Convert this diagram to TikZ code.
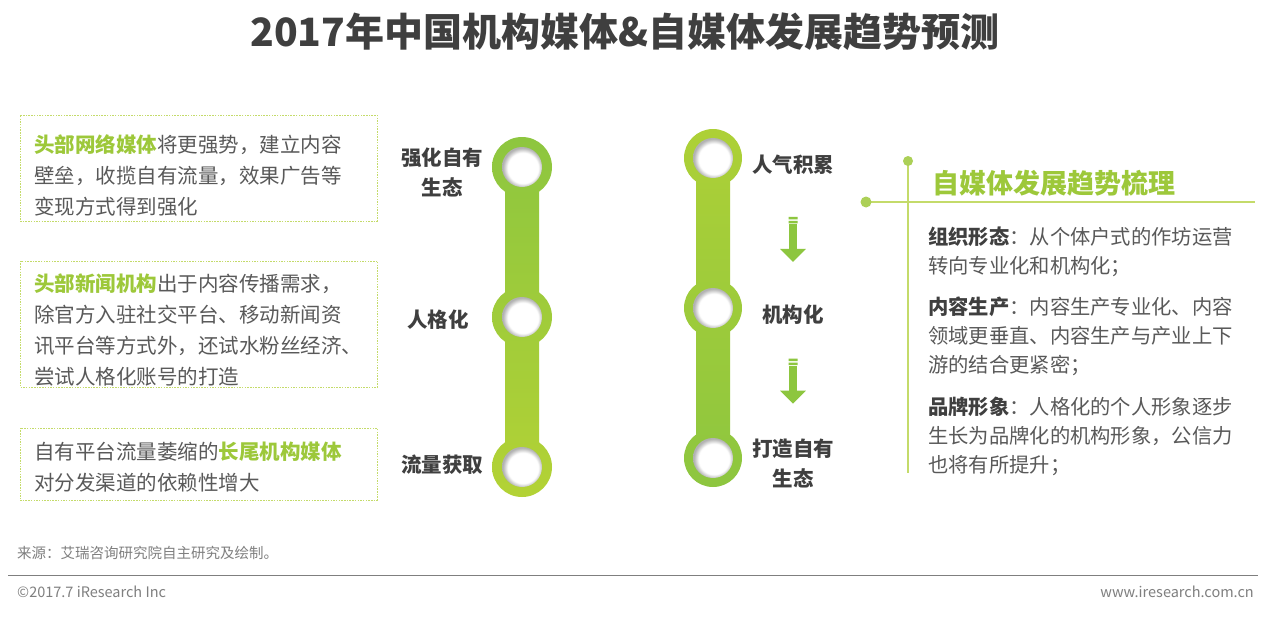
\documentclass[tikz,border=0pt]{standalone}
\usepackage{fontspec}
\setmainfont{Noto Sans CJK SC}
\usetikzlibrary{arrows.meta,calc,positioning}
\definecolor{Ink}{HTML}{3F3F3F}
\definecolor{Body}{HTML}{595959}
\definecolor{Lime}{HTML}{9DC83A}
\definecolor{GrnA}{HTML}{8DC63F}
\definecolor{GrnB}{HTML}{B3D235}
\definecolor{Rule}{HTML}{C4DB6A}
\definecolor{Muted}{HTML}{7F7F7F}
\pgfdeclareradialshading{holeshade}{\pgfpoint{2bp}{-2bp}}{color(0bp)=(white);color(19bp)=(white);color(25bp)=(black!30);color(50bp)=(black!30)}
\newcommand\hl[1]{\textcolor{Lime}{\bfseries #1}}

\begin{document}
\begin{tikzpicture}[x=1pt,y=-1pt,
    box/.style={draw=Rule,dash pattern=on 1.5pt off 1.2pt,line width=.8pt,minimum width=357pt},
    para/.style={anchor=west,align=left,text=Body,inner sep=0pt,font=\fontsize{20.5}{31}\selectfont},
    tag/.style={align=center,text=Ink,inner sep=0pt,font=\bfseries\fontsize{20.5}{30}\selectfont},
    hole/.style={circle,minimum size=40pt,inner sep=0pt,shade,shading=holeshade},
    dnarrow/.style={GrnA,line width=8pt,-{Triangle[width=25pt,length=13pt]}}]
  \useasboundingbox[fill=white](0,0)rectangle(1271,616);
  \node[text=Ink,font=\bfseries\fontsize{39}{39}\selectfont](title)at(625,32){2017年中国机构媒体\&自媒体发展趋势预测};
  % left boxes
  \node[box,minimum height=106pt](b1)at(198.5,168){};
  \node[box,minimum height=126pt](b2)at(199,324){};
  \node[box,minimum height=72pt](b3)at(198.5,464){};
  \node[para](p1)at(34,175){\hl{头部网络媒体}将更强势，建立内容\\壁垒，收揽自有流量，效果广告等\\变现方式得到强化};
  \node[para](p2)at(34,330){\hl{头部新闻机构}出于内容传播需求，\\除官方入驻社交平台、移动新闻资\\讯平台等方式外，还试水粉丝经济、\\尝试人格化账号的打造};
  \node[para](p3)at(34,467){自有平台流量萎缩的\hl{长尾机构媒体}\\对分发渠道的依赖性增大};
  % left track
  \shade[top color=GrnA,bottom color=GrnB](505,167)rectangle(539,467)
    (522,167)circle[radius=30pt](522,317)circle[radius=30pt](522,467)circle[radius=30pt];
  \node[hole](lc1)at(522,167){};
  \node[hole](lc2)at(522,317){};
  \node[hole](lc3)at(522,467){};
  \node[tag](qh)at(442,172){强化自有\\生态};
  \node[tag](rg)at(438,320){人格化};
  \node[tag](ll)at(442,465){流量获取};
  % right track
  \shade[top color=GrnB!85!GrnA,bottom color=GrnA](696,158)rectangle(730,458)
    (713,158)circle[radius=29pt](713,308)circle[radius=29pt](713,458)circle[radius=29pt];
  \node[hole](rc1)at(713,158){};
  \node[hole](rc2)at(713,308){};
  \node[hole](rc3)at(713,458){};
  \node[tag](rq)at(793,165){人气积累};
  \node[tag](rj)at(793,315){机构化};
  \node[tag](rd)at(793,463){打造自有\\生态};
  \foreach \u/\v in {rq/rj,rj/rd}{
    \coordinate(m)at($(\u.south)!.5!(\v.north)$);
    \fill[GrnA]($(m)+(-4.5,-23)$)rectangle++(9,2.5)($(m)+(-4.5,-19)$)rectangle++(9,2.5);
    \draw[dnarrow]($(m)+(0,-15.5)$)--($(m)+(0,22)$);
  }
  % summary
  \coordinate(vt)at(908,161);
  \coordinate(hl)at(866,202);
  \draw[Rule,line width=1.5pt](vt)--++(0,312);
  \draw[Rule,line width=1.5pt](hl)--(1255,202);
  \fill[Lime!85](vt)circle[radius=5pt](hl)circle[radius=5.5pt];
  \node[anchor=west,inner sep=0pt,text=Lime,font=\bfseries\fontsize{27}{27}\selectfont](st)at(932,183){自媒体发展趋势梳理};
  \node[para,font=\fontsize{20.3}{29}\selectfont](z1)at(928,251.5){\textcolor{Ink}{\bfseries 组织形态}：从个体户式的作坊运营\\转向专业化和机构化；};
  \node[para,font=\fontsize{20.3}{29}\selectfont](z2)at(928,336){\textcolor{Ink}{\bfseries 内容生产}：内容生产专业化、内容\\领域更垂直、内容生产与产业上下\\游的结合更紧密；};
  \node[para,font=\fontsize{20.3}{29}\selectfont](z3)at(928,436){\textcolor{Ink}{\bfseries 品牌形象}：人格化的个人形象逐步\\生长为品牌化的机构形象，公信力\\也将有所提升；};
  % footer
  \node[anchor=west,inner sep=0pt,text=Muted,font=\fontsize{14.5}{15}\selectfont](src)at(17,553){来源：艾瑞咨询研究院自主研究及绘制。};
  \draw[Muted,line width=1pt](8,575)--(1258,575);
  \node[anchor=west,inner sep=0pt,text=Muted,font=\fontsize{14.5}{15}\selectfont](cr)at(17,592){©2017.7 iResearch Inc};
  \node[anchor=east,inner sep=0pt,text=Muted,font=\fontsize{14.5}{15}\selectfont](www)at(1254,592){www.iresearch.com.cn};
\end{tikzpicture}
\end{document}
